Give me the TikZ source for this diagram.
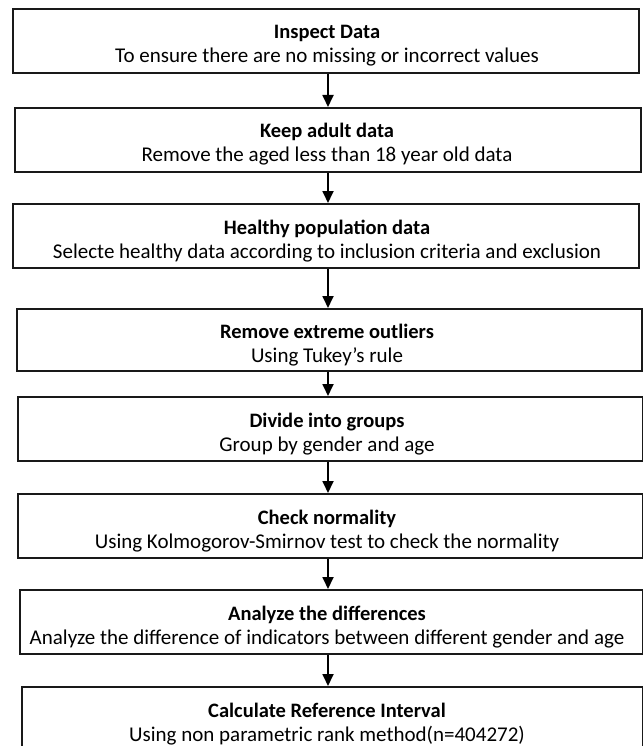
\documentclass[tikz,border=0pt]{standalone}
\usepackage{fontspec}
\setmainfont{Carlito}
\usetikzlibrary{arrows.meta}
\begin{document}
\begin{tikzpicture}[x=1pt,y=-1pt,
  box/.style={draw=black!90,line width=1.9pt,anchor=north west,inner sep=0pt,minimum height=64pt},
  ttl/.style={anchor=base,inner sep=0pt,font=\fontsize{20.5}{24}\selectfont\bfseries},
  sub/.style={anchor=base,inner sep=0pt,font=\fontsize{21}{24}\selectfont},
  arr/.style={draw=black,line width=1.8pt,-{Triangle[width=11pt,length=12pt]}}]
\useasboundingbox (0,0) rectangle (642,746);
\fill[white] (0,0) rectangle (642,746);
\coordinate (ax) at (328,0);
\node[box,minimum width=626pt] (b1) at (12,8) {};
\node[box,minimum width=626pt] (b2) at (14,107) {};
\node[box,minimum width=626pt] (b3) at (12,203) {};
\node[box,minimum width=625pt,minimum height=62pt] (b4) at (16,308) {};
\node[box,minimum width=624.5pt] (b5) at (17,396) {};
\node[box,minimum width=624.5pt] (b6) at (17,493) {};
\node[box,minimum width=622.5pt] (b7) at (19,589) {};
\node[box,minimum width=620.5pt,minimum height=80pt] (b8) at (21,686) {};
\node[ttl] (t1) at (327,39) {Inspect Data};
\node[sub] (s1) at (327,63) {To ensure there are no missing or incorrect values};
\node[ttl] (t2) at (327,138) {Keep adult data};
\node[sub] (s2) at (327,162) {Remove the aged less than 18 year old data};
\node[ttl] (t3) at (327,234) {Healthy population data};
\node[sub] (s3) at (327,258) {Selecte healthy data according to inclusion criteria and exclusion};
\node[ttl] (t4) at (327,338) {Remove extreme outliers};
\node[sub] (s4) at (327,362) {Using Tukey’s rule};
\node[ttl] (t5) at (327,427) {Divide into groups};
\node[sub] (s5) at (327,451) {Group by gender and age};
\node[ttl] (t6) at (327,524) {Check normality};
\node[sub] (s6) at (327,548) {Using Kolmogorov-Smirnov test to check the normality};
\node[ttl] (t7) at (327,620) {Analyze the differences};
\node[sub] (s7) at (327,644) {Analyze the difference of indicators between different gender and age};
\node[ttl] (t8) at (327,717) {Calculate Reference Interval};
\node[sub] (s8) at (327,741) {Using non parametric rank method(n=404272)};
\foreach \a/\b in {b1/b2,b2/b3,b3/b4,b4/b5,b5/b6,b6/b7,b7/b8}
  \draw[arr] (\a.south -| ax) -- (\b.north -| ax);
\end{tikzpicture}
\end{document}
